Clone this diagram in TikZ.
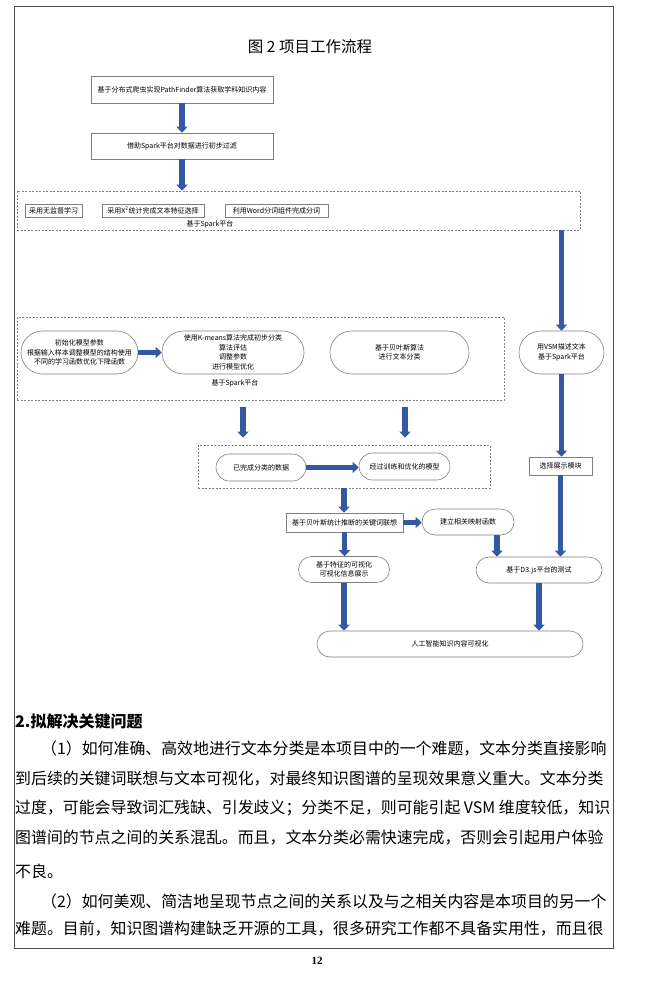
\documentclass[tikz,border=0pt]{standalone}
\usepackage{fontspec}
\setmainfont{Noto Sans CJK SC}
\newfontfamily\pagefont{Liberation Serif}
\usetikzlibrary{arrows.meta,shapes.misc}
\definecolor{flowblue}{RGB}{52,88,162}
\definecolor{boxgray}{RGB}{128,128,128}

\begin{document}
\begin{tikzpicture}[%
      x=1pt, y=-1pt,
      box/.style={draw=boxgray, line width=0.6pt, inner sep=0pt, align=center,
        font=\fontsize{7}{9.5}\selectfont},
      pill/.style={box, rounded rectangle},
      group/.style={draw=boxgray, line width=0.6pt, dash pattern=on 2pt off 1.5pt, inner sep=0pt},
      flow/.style={draw=flowblue, line width=5.5pt, -{Triangle[width=11pt,length=6pt]}},
      bodyline/.style={anchor=west, inner sep=0pt, font=\fontsize{15.9}{16}\selectfont},
      ]
      \useasboundingbox (0,0) rectangle (662,981);
      \draw [color=black!70, line width=0.8pt] (14,6) rectangle (613,948);

      \node [font=\fontsize{15.5}{16}\selectfont] (title) at (310,47) {图 2 项目工作流程};

      \node [box, minimum width=182pt, minimum height=27pt] (crawl) at (182,89.5)
        {基于分布式爬虫实现PathFinder算法获取学科知识内容};
      \node [box, minimum width=182pt, minimum height=26pt] (filter) at (182,146)
        {借助Spark平台对数据进行初步过滤};

      \node [group, minimum width=563pt, minimum height=39pt] (seg) at (298.5,210.5) {};
      \node [box, minimum width=57pt, minimum height=13pt] (unsup) at (53.5,210.5) {采用无监督学习};
      \node [box, minimum width=102pt, minimum height=13pt] (chi) at (153,210.5)
        {采用X\textsuperscript{2}统计完成文本特征选择};
      \node [box, minimum width=103pt, minimum height=13pt] (word) at (276.5,210.5)
        {利用Word分词组件完成分词};
      \node [box, draw=none] (spark1) at (210,224) {基于Spark平台};

      \node [group, minimum width=487pt, minimum height=83pt] (train) at (260.5,358.5) {};
      \node [pill, minimum width=117pt, minimum height=43pt] (init) at (79.5,352.5)
        {初始化模型参数\\根据输入样本调整模型的结构使用\\不同的学习函数优化下降函数};
      \node [pill, minimum width=142pt, minimum height=43pt] (kmeans) at (233,352.5)
        {使用K-means算法完成初步分类\\算法评估\\调整参数\\进行模型优化};
      \node [box, draw=none] (spark2) at (235,383) {基于Spark平台};
      \node [pill, minimum width=139pt, minimum height=43pt] (bayes) at (399.5,352.5)
        {基于贝叶斯算法\\进行文本分类};
      \node [pill, minimum width=85pt, minimum height=43pt] (vsm) at (561.5,352.5)
        {用VSM描述文本\\基于Spark平台};

      \node [group, minimum width=292pt, minimum height=43pt] (result) at (344,466.5) {};
      \node [pill, minimum width=90pt, minimum height=27pt] (data) at (261,467.5) {已完成分类的数据};
      \node [pill, minimum width=91pt, minimum height=27pt] (model) at (404.5,466.5) {经过训练和优化的模型};
      \node [box, minimum width=63pt, minimum height=18pt] (show) at (560.5,466) {选择展示模块};

      \node [box, minimum width=117pt, minimum height=19pt] (assoc) at (344.5,522.5)
        {基于贝叶斯统计推断的关键词联想};
      \node [pill, minimum width=92pt, minimum height=26pt] (map) at (468,522) {建立相关映射函数};
      \node [pill, minimum width=91pt, minimum height=26pt] (feat) at (344,569.5)
        {基于特征的可视化\\可视化信息展示};
      \node [pill, minimum width=126pt, minimum height=26pt] (d3) at (539,570) {基于D3.js平台的测试};
      \node [pill, minimum width=266pt, minimum height=26pt] (final) at (450,644) {人工智能知识内容可视化};

      \draw [flow] (crawl.south) -- (filter.north);
      \draw [flow] (filter.south) -- (filter.south |- seg.north);
      \draw [flow] (vsm.north |- seg.south) -- (vsm.north);
      \draw [flow] (init.east) -- (kmeans.west);
      \draw [flow, shorten <=7pt, shorten >=7pt] ([xshift=-17.5pt]train.south)
        -- ([xshift=-17.5pt]train.south |- result.north);
      \draw [flow, shorten <=7pt, shorten >=7pt] ([xshift=144.5pt]train.south)
        -- ([xshift=144.5pt]train.south |- result.north);
      \draw [flow] (data.east) -- (data.east -| model.west);
      \draw [flow] (vsm.south) -- (vsm.south |- show.north);
      \draw [flow] (result.south) -- (result.south |- assoc.north);
      \draw [flow] (assoc.east) -- (assoc.east -| map.west);
      \draw [flow] (assoc.south) -- (assoc.south |- feat.north);
      \draw [flow] ([xshift=29pt]map.south) -- ([xshift=29pt]map.south |- d3.north);
      \draw [flow] (show.south) -- (show.south |- d3.north);
      \draw [flow] (feat.south) -- (feat.south |- final.north);
      \draw [flow] (d3.south) -- (d3.south |- final.north);

      \node [anchor=west, inner sep=0pt, font=\fontsize{16}{17}\selectfont\bfseries] (head) at (15,721)
        {2.拟解决关键问题};
      \node [bodyline] (line1) at (41,748.3) {（1）如何准确、高效地进行文本分类是本项目中的一个难题，文本分类直接影响};
      \node [bodyline] (line2) at (15,778.3) {到后续的关键词联想与文本可视化，对最终知识图谱的呈现效果意义重大。文本分类};
      \node [bodyline] (line3) at (15,808.3) {过度，可能会导致词汇残缺、引发歧义；分类不足，则可能引起 VSM 维度较低，知识};
      \node [bodyline] (line4) at (15,837.3) {图谱间的节点之间的关系混乱。而且，文本分类必需快速完成，否则会引起用户体验};
      \node [bodyline] (line5) at (15,871.7) {不良。};
      \node [bodyline] (line6) at (41,901.7) {（2）如何美观、简洁地呈现节点之间的关系以及与之相关内容是本项目的另一个};
      \node [bodyline] (line7) at (15,928.3) {难题。目前，知识图谱构建缺乏开源的工具，很多研究工作都不具备实用性，而且很};

      \node [font=\pagefont\fontsize{11}{12}\selectfont\bfseries] (pagenum) at (317,961) {12};
      \end{tikzpicture}
\end{document}
